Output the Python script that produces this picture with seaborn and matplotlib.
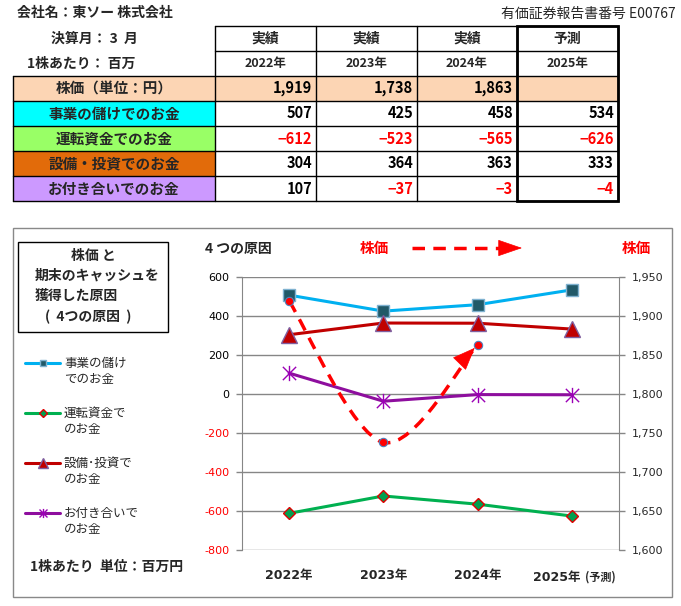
import numpy as np
import pandas as pd
import matplotlib
matplotlib.use('Agg')
import matplotlib.pyplot as plt
import seaborn as sns
from matplotlib.path import Path
from matplotlib.patches import Rectangle, FancyArrowPatch, PathPatch
from matplotlib.lines import Line2D

# --- data ---
years = ['2022年', '2023年', '2024年', '2025年']
kinds = ['実績', '実績', '実績', '予測']
stock_price = [1919, 1738, 1863, np.nan]
operating = [507, 425, 458, 534]
working_cap = [-612, -523, -565, -626]
investing = [304, 364, 363, 333]
others = [107, -37, -3, -4]

row_labels = ['株価（単位：円）', '事業の儲けでのお金', '運転資金でのお金',
              '設備・投資でのお金', 'お付き合いでのお金']
row_colors = ['#FCD5B4', '#00FFFF', '#99FF66', '#E26B0A', '#CC99FF']
legend_labels = [('事業の儲け', 'でのお金'), ('運転資金で', 'のお金'),
                 ('設備･投資で', 'のお金'), ('お付き合いで', 'のお金')]
left_ticks = [-800, -600, -400, -200, 0, 200, 400, 600]
right_ticks = [1600, 1650, 1700, 1750, 1800, 1850, 1900, 1950]

sns.set_style('white')
plt.rcParams['font.family'] = ['Noto Sans CJK JP', 'DejaVu Sans']
NUM = ['DejaVu Sans', 'Noto Sans CJK JP']

df = pd.DataFrame({'year': years, 'price': stock_price, 'operating': operating,
                   'working': working_cap, 'investing': investing, 'others': others})

star = Path([(-1, -1), (1, 1), (-1, 1), (1, -1), (0, -1.15), (0, 1.15)],
            [Path.MOVETO, Path.LINETO, Path.MOVETO, Path.LINETO, Path.MOVETO, Path.LINETO])

styles = {
    'operating': dict(color='#00B0F0', marker='s', markersize=8, markerfacecolor='#215968',
                      markeredgecolor='#7FB2D0', markeredgewidth=1),
    'working': dict(color='#00B050', marker='D', markersize=6.5, markerfacecolor='#00A050',
                    markeredgecolor='#E00000', markeredgewidth=1),
    'investing': dict(color='#C00000', marker='^', markersize=11, markerfacecolor='#C00000',
                      markeredgecolor='#7F5FA0', markeredgewidth=1),
    'others': dict(color='#8E0E9E', marker=star, markersize=11, markerfacecolor='none',
                   markeredgecolor='#9B00B5', markeredgewidth=1),
}
DASH = (0, (3.6, 2.4))

W, H = 681, 606
fig = plt.figure(figsize=(W / 100, H / 100), dpi=100)

# background layer in pixel coordinates for the table and captions
bg = fig.add_axes([0, 0, 1, 1], zorder=0)
bg.set_xlim(0, W)
bg.set_ylim(H, 0)
bg.axis('off')

bg.text(17, 13, '会社名：東ソー 株式会社', fontsize=10, fontweight='bold', va='center')
bg.text(676, 14, '有価証券報告書番号 E00767', fontsize=10, ha='right', va='center')
bg.text(51, 39, '決算月： 3  月', fontsize=10, fontweight='bold', va='center')
bg.text(27, 64, '1株あたり： 百万', fontsize=10, fontweight='bold', va='center')

# table
xe = [13, 215, 316, 417, 517, 618]
ye = [26, 51, 76, 101, 126, 151, 176, 201]
for r in range(5):
    y0 = ye[r + 2]
    if r == 0:
        bg.add_patch(Rectangle((xe[0], y0), xe[-1] - xe[0], 25, facecolor=row_colors[0], edgecolor='none'))
    else:
        bg.add_patch(Rectangle((xe[0], y0), xe[1] - xe[0], 25, facecolor=row_colors[r], edgecolor='none'))
    bg.text((xe[0] + xe[1]) / 2, y0 + 12.5, row_labels[r], fontsize=10.5, fontweight='bold',
            ha='center', va='center')

for y in ye:
    x0 = xe[1] if y < 76 else xe[0]
    bg.plot([x0, xe[-1]], [y, y], color='black', lw=1)
for i, x in enumerate(xe):
    y0 = ye[0] if i > 0 else ye[2]
    bg.plot([x, x], [y0, ye[-1]], color='black', lw=1)
bg.add_patch(Rectangle((xe[4], ye[0]), xe[5] - xe[4], ye[-1] - ye[0], fill=False,
                       edgecolor='black', lw=2))

series_rows = [stock_price, operating, working_cap, investing, others]
for c in range(4):
    cx = (xe[c + 1] + xe[c + 2]) / 2
    bg.text(cx, 38.5, kinds[c], fontsize=10, fontweight='bold', ha='center', va='center')
    bg.text(cx, 63.5, years[c], fontsize=9, fontweight='bold', ha='center', va='center')
    for r, vals in enumerate(series_rows):
        v = vals[c]
        if np.isnan(v):
            continue
        txt = f'{int(v):,}' if v >= 0 else f'−{abs(int(v)):,}'
        bg.text(xe[c + 2] - 4, ye[r + 2] + 12.5, txt, fontsize=10.5, fontweight='bold',
                ha='right', va='center', color='black' if v >= 0 else 'red')

# chart panel
bg.add_patch(Rectangle((13, 228), 659, 369, fill=False, edgecolor='#898989', lw=1))
bg.add_patch(Rectangle((18, 242), 150, 90, fill=False, edgecolor='black', lw=1))
bg.text(93, 256, '株価 と', fontsize=10, fontweight='bold', ha='center', va='center')
bg.text(35, 276, '期末のキャッシュを', fontsize=10, fontweight='bold', va='center')
bg.text(35, 296, '獲得した原因', fontsize=10, fontweight='bold', va='center')
bg.text(45, 317, '(  4つの原因  )', fontsize=10, fontweight='bold', va='center')
bg.text(30, 567, '1株あたり  単位：百万円', fontsize=10, fontweight='bold', va='center')
bg.text(205, 249, '4 つの原因', fontsize=10, fontweight='bold', va='center')
bg.text(360, 248, '株価', fontsize=10.5, fontweight='bold', va='center', color='red')
bg.text(622, 248, '株価', fontsize=10.5, fontweight='bold', va='center', color='red')
bg.plot([412, 504], [248, 248], color='red', lw=2.5, linestyle=DASH)
bg.add_patch(FancyArrowPatch((498, 248), (522, 248), arrowstyle='-|>,head_length=1.6,head_width=0.55',
                             mutation_scale=10, color='red', lw=0.5, shrinkA=0, shrinkB=0))

# legend keys
for k, (key, (l1, l2)) in enumerate(zip(styles, legend_labels)):
    y = 363 + k * 50
    st = dict(styles[key])
    st['markersize'] = st['markersize'] * 0.6
    bg.add_line(Line2D([25, 60], [y, y], lw=2.2, color=st['color']))
    bg.add_line(Line2D([42.5], [y], linestyle='none', **st))
    bg.text(64, y, l1, fontsize=9, va='center')
    bg.text(64, y + 17, l2, fontsize=9, va='center')

# main chart
ax = fig.add_axes([242 / W, 1 - 550 / H, (619 - 242) / W, (550 - 277) / H], zorder=1)
for key in styles:
    sns.lineplot(data=df, x='year', y=key, ax=ax, lw=2.2, **styles[key])
ax.set_xlim(-0.5, 3.5)
ax.set_ylim(-800, 600)
ax.set_yticks(left_ticks)
ax.set_yticklabels([str(t) for t in left_ticks], family=NUM, fontsize=8)
for lab, t in zip(ax.get_yticklabels(), left_ticks):
    lab.set_color('red' if t < 0 else 'black')
ax.set_xticks(range(4))
ax.set_xticklabels(years[:3] + [''], family=NUM, fontsize=9, fontweight='bold')
ax.tick_params(axis='x', length=0, pad=14)
ax.tick_params(axis='y', length=4, width=1, color='#868686', pad=5)
ax.yaxis.grid(True, color='#868686', lw=1)
ax.set_axisbelow(True)
ax.set_xlabel('')
ax.set_ylabel('')
for s in ['top', 'bottom', 'right']:
    ax.spines[s].set_visible(False)
ax.spines['left'].set_color('#868686')
ax.annotate('2025年', xy=(3, 0), xycoords=('data', 'axes fraction'), xytext=(6.5, -19.5),
            textcoords='offset points', ha='right', va='center', family=NUM, fontsize=9,
            fontweight='bold')
ax.annotate('(予測)', xy=(3, 0), xycoords=('data', 'axes fraction'), xytext=(9.5, -19.5),
            textcoords='offset points', ha='left', va='center', fontsize=8, fontweight='bold')

# stock price: smoothed dashed curve on the right axis, arrow head at the last actual
ax2 = ax.twinx()
ax2.set_zorder(2)
valid = ~np.isnan(np.array(stock_price, dtype=float))
pts = np.column_stack([np.arange(len(years))[valid], np.array(stock_price, dtype=float)[valid]])
ext = np.vstack([pts[0], pts, pts[-1]])
verts, codes = [pts[0]], [Path.MOVETO]
for i in range(len(pts) - 1):
    p0, p1, p2, p3 = ext[i], ext[i + 1], ext[i + 2], ext[i + 3]
    verts += [p1 + (p2 - p0) / 6, p2 - (p3 - p1) / 6, p2]
    codes += [Path.CURVE4] * 3
ax2.add_patch(PathPatch(Path(verts, codes), fill=False, edgecolor='red', lw=2.5,
                        linestyle=DASH, zorder=3))
ax2.add_patch(FancyArrowPatch(tuple(verts[-2]), tuple(verts[-1]),
                              arrowstyle='-|>,head_length=1.5,head_width=0.6', mutation_scale=10,
                              color='red', lw=0.5, shrinkA=0, shrinkB=3, zorder=4))
sns.scatterplot(data=df, x='year', y='price', ax=ax2, color='red', s=36,
                edgecolor='#4F81BD', linewidth=0.8, zorder=5)
ax2.set_ylim(1600, 1950)
ax2.set_xlim(-0.5, 3.5)
ax2.set_yticks(right_ticks)
ax2.set_yticklabels([f'{t:,}' for t in right_ticks], family=NUM, fontsize=8)
ax2.tick_params(axis='y', length=4, width=1, color='#868686', pad=5)
ax2.set_ylabel('')
for s in ['top', 'bottom', 'left']:
    ax2.spines[s].set_visible(False)
ax2.spines['right'].set_color('#868686')

fig.savefig('out.png', dpi=100)
